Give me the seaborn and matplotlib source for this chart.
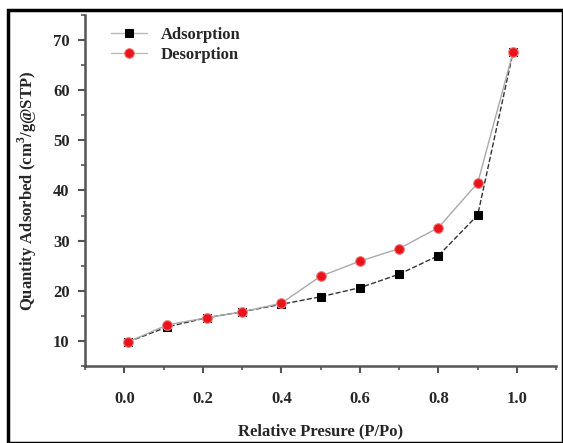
import numpy as np
import pandas as pd
import matplotlib.pyplot as plt
import seaborn as sns
from matplotlib.ticker import MultipleLocator
from matplotlib.patches import Rectangle

# Data read from the isotherm
pressure = [0.01, 0.11, 0.21, 0.30, 0.40, 0.50, 0.60, 0.70, 0.80, 0.90, 0.99]
adsorption = [9.8, 12.8, 14.6, 15.8, 17.3, 18.8, 20.6, 23.3, 27.0, 35.1, 67.6]
desorption = [9.8, 13.2, 14.6, 15.8, 17.5, 22.9, 25.9, 28.4, 32.6, 41.5, 67.6]

sns.set_style("ticks")
plt.rcParams['font.family'] = ['Liberation Serif', 'DejaVu Serif']
plt.rcParams['font.weight'] = 'bold'
plt.rcParams['mathtext.fontset'] = 'custom'
plt.rcParams['mathtext.rm'] = 'Liberation Serif:bold'
plt.rcParams['mathtext.bf'] = 'Liberation Serif:bold'

fig = plt.figure(figsize=(5.63, 4.43), dpi=100)
ax = fig.add_axes([0.151, 0.174, 0.837, 0.792])

# Outer frame around the picture
fig.patches.append(Rectangle((0.014, 0.0), 0.986, 0.977, transform=fig.transFigure,
                             fill=False, edgecolor='black', linewidth=2.5))

sns.lineplot(x=pressure, y=adsorption, ax=ax, color='#333333', linestyle='--',
             linewidth=1.0, marker='s', markersize=6, markerfacecolor='black',
             markeredgecolor='black', label='Adsorption')
sns.lineplot(x=pressure, y=desorption, ax=ax, color='#aaaaaa', linestyle='-',
             linewidth=1.0, marker='o', markersize=7, markerfacecolor='#e8141c',
             markeredgecolor='#f08080', label='Desorption')

ax.set_xlim(-0.1, 1.1)
ax.set_ylim(5, 75)
ax.xaxis.set_minor_locator(MultipleLocator(0.1))
ax.yaxis.set_minor_locator(MultipleLocator(5))
ax.set_xticks([0.0, 0.2, 0.4, 0.6, 0.8, 1.0])
ax.set_yticks([10, 20, 30, 40, 50, 60, 70])

for side in ['top', 'right']:
    ax.spines[side].set_visible(False)
for side in ['left', 'bottom']:
    ax.spines[side].set_color('#555555')
    ax.spines[side].set_linewidth(1.8)

ax.tick_params(axis='x', which='major', pad=13)
ax.tick_params(axis='y', which='major', pad=6)
ax.tick_params(which='major', direction='out', length=5, width=1.5, color='#555555',
               labelsize=12)
ax.tick_params(which='minor', direction='out', length=3, width=1.2, color='#555555')
for lab in ax.get_xticklabels() + ax.get_yticklabels():
    lab.set_fontweight('bold')

ax.set_xlabel('Relative Presure (P/Po)', fontsize=12, fontweight='bold', labelpad=12)
ax.set_ylabel('Quantity Adsorbed (cm$^{3}$/g@STP)', fontsize=12,
              fontweight='bold', labelpad=10)

leg = ax.legend(loc='upper left', frameon=False, handlelength=2.2,
                borderaxespad=0.3, bbox_to_anchor=(0.03, 1.0), labelspacing=0.25,
                prop={'weight': 'bold', 'size': 12})
for line in leg.get_lines():
    line.set_color('#bbbbbb')
    line.set_linestyle('-')

plt.savefig('out.png', dpi=100)
